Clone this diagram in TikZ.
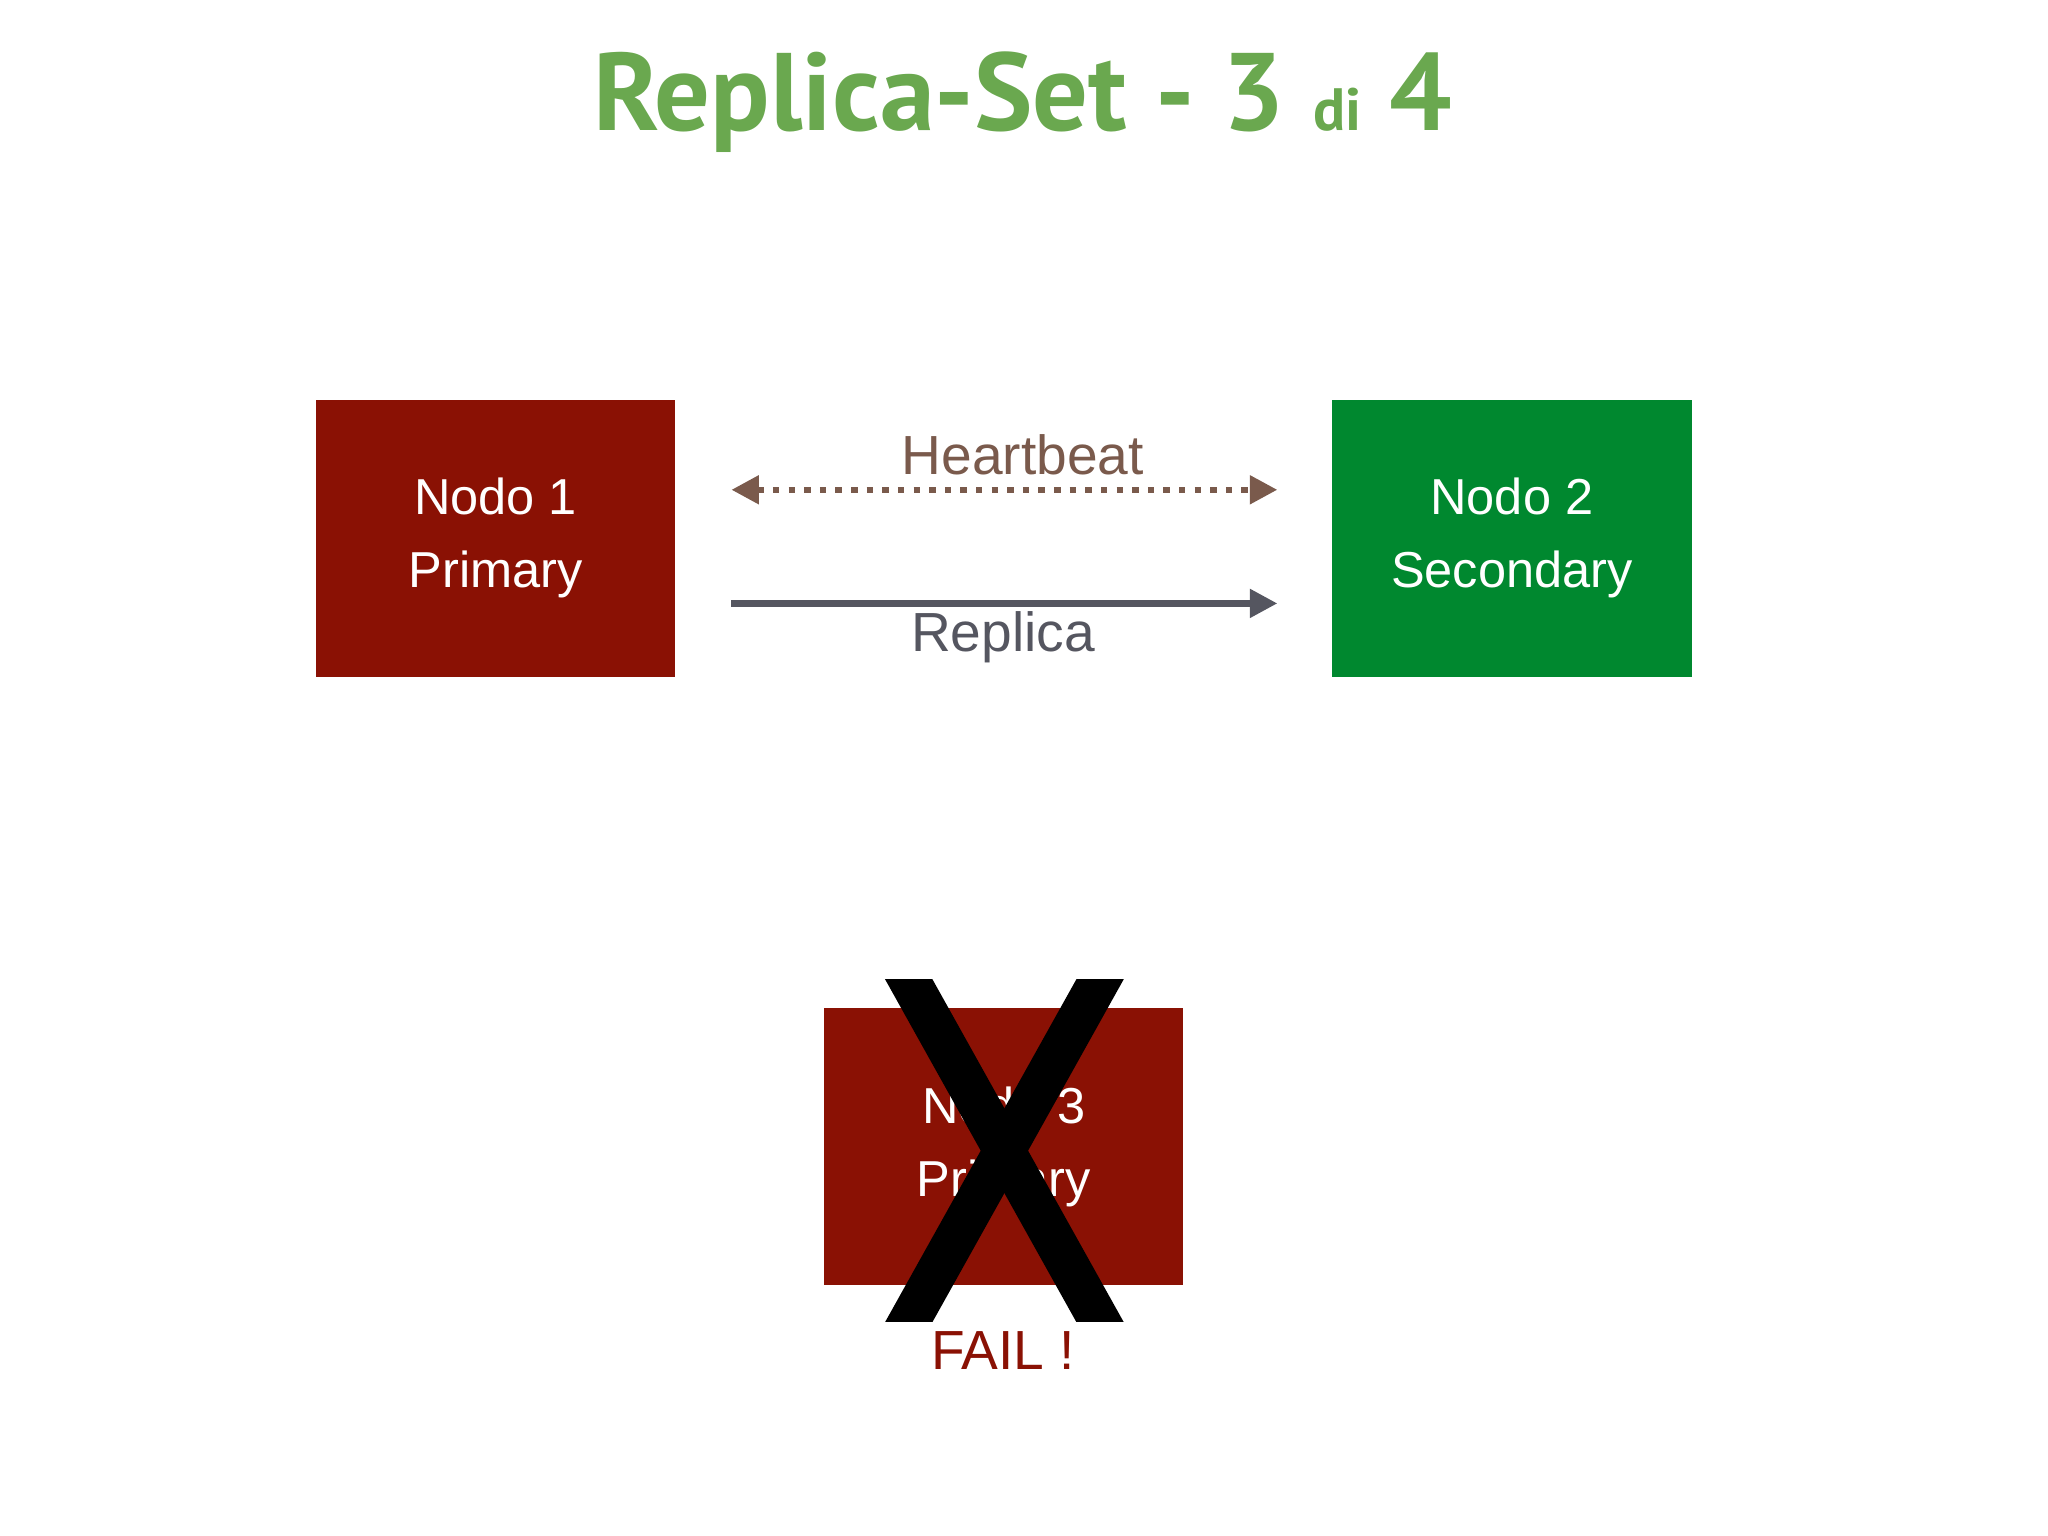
\documentclass[tikz,border=0pt]{standalone}
\usepackage{fontspec}
\setmainfont{Liberation Sans}
\newfontfamily\titlefont{PT Sans}
\usetikzlibrary{arrows.meta}
\definecolor{dred}{HTML}{8A1104}
\definecolor{dgreen}{HTML}{00882F}
\definecolor{tgreen}{HTML}{6AA84F}
\definecolor{hb}{HTML}{7A5A4C}
\definecolor{rp}{HTML}{555660}
\tikzset{
  nodebox/.style={minimum width=2.75cm,minimum height=2.12cm,inner sep=0pt,text=white,align=center,font=\fontsize{11}{16}\selectfont},
  lbl/.style={font=\fontsize{12}{14}\selectfont}
}
\begin{document}
\begin{tikzpicture}[x=0.01cm,y=-0.01cm]
\useasboundingbox (0,0) rectangle (1568,1176);
\node[text=tgreen,font=\titlefont\bfseries\fontsize{24}{28}\selectfont] (title) at (783,78) {Replica-Set - 3 {\fontsize{13}{14}\selectfont di} 4};
\node[nodebox,fill=dred] (n1) at (379.5,412) {Nodo 1\\Primary};
\node[nodebox,fill=dgreen] (n2) at (1157.5,412) {Nodo 2\\Secondary};
\node[nodebox,fill=dred] (n3) at (768.5,878) {Nodo 3\\Primary};
\coordinate (h1) at (560,375); \coordinate (h2) at (978,375);
\coordinate (r1) at (560,462); \coordinate (r2) at (978,462);
\draw[hb,line width=1.4pt,dotted,{Triangle[length=6pt,width=6pt]}-{Triangle[length=6pt,width=6pt]}] (h1) -- (h2);
\node[lbl,text=hb] (hl) at (783,348) {Heartbeat};
\draw[rp,line width=1.4pt,-{Triangle[length=6pt,width=6pt]}] (r1) -- (r2);
\node[lbl,text=rp] (rl) at (768,488) {Replica};
\begin{scope}
\clip (600,750) rectangle (950,1012);
\draw[line width=9pt] (668,700) -- (870,1062);
\draw[line width=9pt] (870,700) -- (668,1062);
\end{scope}
\node[lbl,text=dred] (fail) at (768,1034) {FAIL !};
\end{tikzpicture}
\end{document}
